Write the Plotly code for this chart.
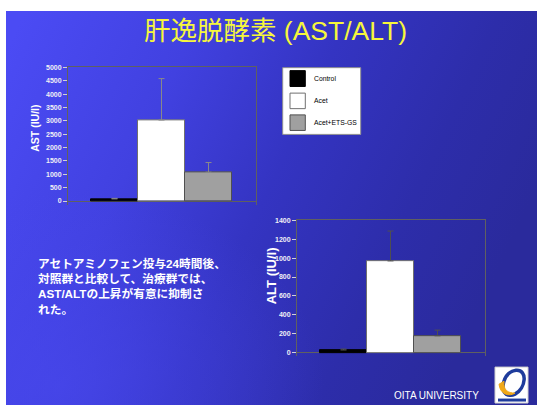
import base64
import plotly.graph_objects as go

# ---- data -------------------------------------------------------------
groups = ["Control", "Acet", "Acet+ETS-GS"]
ast_mean = [80, 3030, 1080]
ast_err = [20, 1550, 360]
alt_mean = [30, 970, 180]
alt_err = [10, 315, 60]
ast_ticks = [0, 500, 1000, 1500, 2000, 2500, 3000, 3500, 4000, 4500, 5000]
alt_ticks = [0, 200, 400, 600, 800, 1000, 1200, 1400]

bar_fill = ["#000000", "#ffffff", "#a0a0a0"]
bar_edge = ["#000000", "#707070", "#505050"]

title_text = "肝逸脱酵素 (AST/ALT)"
body_lines = [
    "アセトアミノフェン投与24時間後、",
    "対照群と比較して、治療群では、",
    "AST/ALTの上昇が有意に抑制さ",
    "れた。",
]

W, H = 537, 405


def px(x):
    return x / W


def py(y):
    return 1 - y / H


# ---- slide background (gradient) -------------------------------------
svg = (
    '<svg xmlns="http://www.w3.org/2000/svg" width="531" height="398" '
    'viewBox="0 0 531 398" preserveAspectRatio="none">'
    '<defs><linearGradient id="g" x1="0" y1="0.1" x2="1" y2="0.45">'
    '<stop offset="0" stop-color="#4b4bf4"/>'
    '<stop offset="0.3" stop-color="#4141e0"/>'
    '<stop offset="0.55" stop-color="#3434c2"/>'
    '<stop offset="0.8" stop-color="#2d2daa"/>'
    '<stop offset="1" stop-color="#2a2a9c"/>'
    '</linearGradient>'
    '<radialGradient id="r" cx="0.1" cy="0.95" r="0.5">'
    '<stop offset="0" stop-color="#4848ee" stop-opacity="0.7"/>'
    '<stop offset="1" stop-color="#4848ee" stop-opacity="0"/>'
    '</radialGradient></defs>'
    '<rect width="531" height="398" fill="url(#g)"/>'
    '<rect width="531" height="398" fill="url(#r)"/>'
    '</svg>'
)
bg_src = "data:image/svg+xml;base64," + base64.b64encode(svg.encode()).decode()

fig = go.Figure()

tick_font = dict(family="Liberation Sans", size=7, color="#f0f0f6", weight="bold")


def add_bars(xa, ya, means, errs, err_color):
    fig.add_trace(go.Bar(
        x=groups, y=means, xaxis=xa, yaxis=ya,
        marker=dict(color=bar_fill, line=dict(color=bar_edge, width=1)),
        error_y=dict(type="data", array=errs, arrayminus=[0] * len(errs),
                     symmetric=False, color=err_color, thickness=1, width=3),
        showlegend=False, hoverinfo="skip",
    ))


add_bars("x", "y", ast_mean, ast_err, "#8a8a8a")
add_bars("x2", "y2", alt_mean, alt_err, "#505050")

axis_common = dict(showgrid=False, fixedrange=True)

fig.update_layout(
    width=W, height=H,
    margin=dict(l=0, r=0, t=0, b=0),
    paper_bgcolor="#ffffff",
    plot_bgcolor="#ffffff",
    bargap=0,
    images=[dict(source=bg_src, xref="paper", yref="paper",
                 x=px(6), y=py(7), sizex=1 - px(6), sizey=py(7) - py(405),
                 xanchor="left", yanchor="top", sizing="stretch", layer="below")],
    xaxis=dict(domain=[px(68), px(256)], anchor="y", range=[-0.99, 3.01],
               showticklabels=False, ticks="", showline=True, side="top",
               linecolor="#606060", linewidth=1, **axis_common),
    yaxis=dict(domain=[py(203), py(64)], anchor="x", range=[-148, 5000],
               tickvals=ast_ticks, ticks="outside", ticklen=4, tickcolor="#d0d0d8",
               tickfont=tick_font, showline=True, mirror=True,
               linecolor="#606060", linewidth=1,
               zeroline=True, zerolinecolor="#606060", zerolinewidth=1,
               **axis_common),
    xaxis2=dict(domain=[px(297), px(485)], anchor="y2", range=[-0.99, 3.01],
                showticklabels=False, ticks="", showline=True, side="top",
                linecolor="#606060", linewidth=1, **axis_common),
    yaxis2=dict(domain=[py(355.5), py(218.3)], anchor="x2", range=[-33, 1400],
                tickvals=alt_ticks, ticks="outside", ticklen=4, tickcolor="#d0d0d8",
                tickfont=tick_font, showline=True, mirror=True,
                linecolor="#606060", linewidth=1,
                zeroline=True, zerolinecolor="#606060", zerolinewidth=1,
                **axis_common),
)

shapes = []
annotations = []

# ---- legend -------------------------------------------------------------
shapes.append(dict(type="rect", xref="paper", yref="paper",
                   x0=px(282.7), x1=px(360.7), y0=py(131.7), y1=py(64.3),
                   fillcolor="#ffffff", line=dict(color="#909090", width=1),
                   layer="above"))
legend_rows = [(67.3, 83.3), (90, 105.7), (112, 127.7)]
for (top, bot), name, fc, lc in zip(legend_rows, groups, bar_fill, bar_edge):
    shapes.append(dict(type="rect", xref="paper", yref="paper",
                       x0=px(290), x1=px(305.3), y0=py(bot), y1=py(top),
                       fillcolor=fc, line=dict(color=lc, width=1), layer="above"))
    annotations.append(dict(text=name, xref="paper", yref="paper",
                            x=px(312), y=py((top + bot) / 2),
                            xanchor="left", yanchor="middle", showarrow=False,
                            font=dict(family="Liberation Sans", size=6.8, color="#000000")))

# ---- axis titles ---------------------------------------------------------
annotations.append(dict(text="AST (IU/l)", xref="paper", yref="paper",
                        x=px(35), y=py(126), textangle=-90, showarrow=False,
                        xanchor="center", yanchor="middle",
                        font=dict(family="Liberation Sans", size=10.5,
                                  color="#ffffff", weight="bold")))
annotations.append(dict(text="ALT (IU/l)", xref="paper", yref="paper",
                        x=px(271), y=py(275), textangle=-90, showarrow=False,
                        xanchor="center", yanchor="middle",
                        font=dict(family="Liberation Sans", size=13,
                                  color="#ffffff", weight="bold")))

# ---- title ---------------------------------------------------------------
annotations.append(dict(text=title_text, xref="paper", yref="paper",
                        x=px(275), y=py(27), showarrow=False,
                        xanchor="center", yanchor="middle",
                        font=dict(family="Liberation Sans, Noto Sans CJK JP",
                                  size=26.5, color="#f6f63c")))

# ---- body text -----------------------------------------------------------
annotations.append(dict(text="<br>".join(body_lines), xref="paper", yref="paper",
                        x=px(36), y=py(285), showarrow=False, align="left",
                        xanchor="left", yanchor="middle",
                        font=dict(family="Liberation Sans, Noto Sans CJK JP",
                                  size=11.7, color="#ffffff", weight="bold")))

# ---- footer --------------------------------------------------------------
annotations.append(dict(text="OITA UNIVERSITY", xref="paper", yref="paper",
                        x=px(436), y=py(395), showarrow=False,
                        xanchor="center", yanchor="middle",
                        font=dict(family="Liberation Sans", size=10, color="#ffffff")))

# university emblem
shapes.append(dict(type="rect", xref="paper", yref="paper",
                   x0=px(495), x1=px(528), y0=py(403), y1=py(366.7),
                   fillcolor="#ffffff", line=dict(color="#d0d0d0", width=1),
                   layer="above"))
shapes.append(dict(type="path", xref="paper", yref="paper",
                   path=(f"M {px(506)} {py(394)} "
                         f"C {px(500)} {py(390)}, {px(503)} {py(372)}, {px(516)} {py(370)} "
                         f"C {px(528)} {py(369)}, {px(526)} {py(388)}, {px(515)} {py(394)} "
                         f"C {px(511)} {py(396)}, {px(508)} {py(395)}, {px(506)} {py(394)} Z"),
                   fillcolor="rgba(0,0,0,0)", line=dict(color="#1f3c9c", width=3.5),
                   layer="above"))
shapes.append(dict(type="path", xref="paper", yref="paper",
                   path=(f"M {px(499)} {py(384)} "
                         f"C {px(500)} {py(394)}, {px(509)} {py(397)}, {px(515)} {py(393)} "
                         f"C {px(508)} {py(393)}, {px(503)} {py(390)}, {px(504)} {py(381)} Z"),
                   fillcolor="#f0a818", line=dict(color="#f0a818", width=1),
                   layer="above"))
shapes.append(dict(type="rect", xref="paper", yref="paper",
                   x0=px(498), x1=px(526), y0=py(401.5), y1=py(398.5),
                   fillcolor="#1f3c9c", line=dict(width=0), layer="above"))

fig.update_layout(shapes=shapes, annotations=annotations)

fig.write_html("out.html")
